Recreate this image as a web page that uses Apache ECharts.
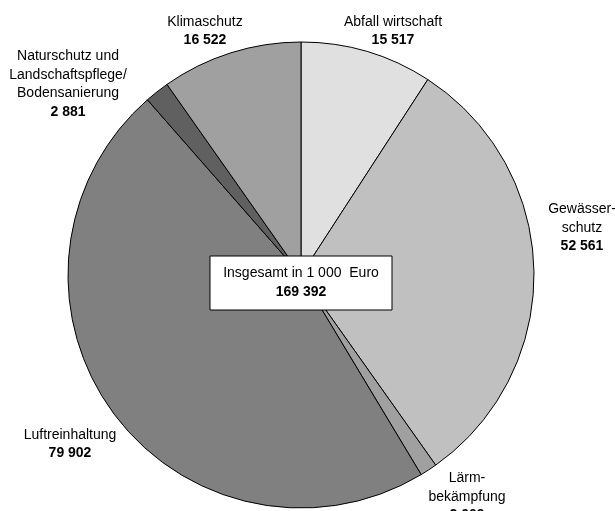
<!DOCTYPE html>
<html>
<head>
<meta charset="utf-8">
<script src="https://cdn.jsdelivr.net/npm/echarts@6/dist/echarts.min.js"></script>
<style>
  html, body { margin: 0; padding: 0; background: #fff; }
  #chart { width: 615px; height: 511px; }
</style>
</head>
<body>
<div id="chart"></div>
<script>
  // Ausgaben nach Umweltbereichen, in 1 000 Euro
  const categories = [
    'Abfall wirtschaft',
    'Gewässer-\nschutz',
    'Lärm-\nbekämpfung',
    'Luftreinhaltung',
    'Naturschutz und\nLandschaftspflege/\nBodensanierung',
    'Klimaschutz'
  ];
  const values = [15517, 52561, 2009, 79902, 2881, 16522];
  const colors = ['#e0e0e0', '#c0c0c0', '#a0a0a0', '#808080', '#606060', '#a0a0a0'];
  // Label-Mittelpunkte (px)
  const labelPos = [[393, 31], [582, 228], [467, 497], [70, 444], [68, 84], [205, 31]];

  const fmt = v => String(v).replace(/\B(?=(\d{3})+(?!\d))/g, ' ');
  const total = values.reduce((a, b) => a + b, 0);

  const chart = echarts.init(document.getElementById('chart'));
  chart.setOption({
    animation: false,
    textStyle: { fontFamily: 'Liberation Sans, Arial, sans-serif' },
    series: [
      {
        type: 'pie',
        center: [301, 275],
        radius: 233,
        startAngle: 90,
        clockwise: true,
        avoidLabelOverlap: false,
        itemStyle: { borderColor: '#000', borderWidth: 1 },
        emphasis: { disabled: true },
        labelLine: { show: false },
        label: {
          show: true,
          position: 'outside',
          align: 'center',
          formatter: p => p.name.split('\n').map(s => '{n|' + s + '}').join('\n') + '\n{v|' + fmt(p.value) + '}',
          rich: {
            n: { fontSize: 14, lineHeight: 18.5, color: '#000', fontFamily: 'Liberation Sans' },
            v: { fontSize: 14, lineHeight: 18.5, color: '#000', fontWeight: 'bold', fontFamily: 'Liberation Sans' }
          }
        },
        labelLayout: p => ({
          x: labelPos[p.dataIndex][0],
          y: labelPos[p.dataIndex][1],
          align: 'center',
          verticalAlign: 'middle'
        }),
        data: categories.map((c, i) => ({ name: c, value: values[i], itemStyle: { color: colors[i] } }))
      }
    ],
    graphic: [
      {
        type: 'rect',
        shape: { x: 210, y: 256, width: 182, height: 54 },
        style: { fill: '#fff', stroke: '#000', lineWidth: 1 },
        z: 100
      },
      {
        type: 'text',
        x: 301, y: 283,
        z: 101,
        style: {
          text: '{n|Insgesamt in 1 000  Euro}\n{v|' + fmt(total) + '}',
          align: 'center',
          verticalAlign: 'middle',
          rich: {
            n: { fontSize: 14, lineHeight: 19, fill: '#000', fontFamily: 'Liberation Sans' },
            v: { fontSize: 14, lineHeight: 19, fill: '#000', fontWeight: 'bold', fontFamily: 'Liberation Sans' }
          }
        }
      }
    ]
  });
</script>
</body>
</html>
